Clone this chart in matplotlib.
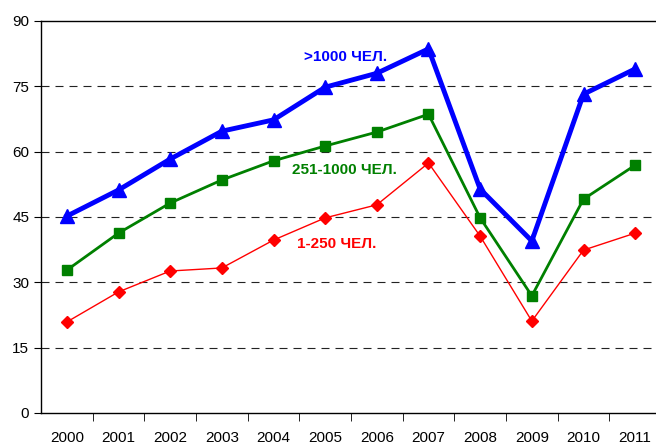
import matplotlib.pyplot as plt

plt.rcParams['font.family'] = ['Liberation Sans', 'DejaVu Sans']

years = ["2000", "2001", "2002", "2003", "2004", "2005",
         "2006", "2007", "2008", "2009", "2010", "2011"]
big = [45.2, 51.2, 58.3, 64.7, 67.3, 74.8, 78.0, 83.6, 51.4, 39.5, 73.2, 79.0]
mid = [32.8, 41.3, 48.2, 53.5, 57.9, 61.3, 64.5, 68.6, 44.8, 26.9, 49.1, 56.9]
small = [20.9, 27.8, 32.6, 33.3, 39.7, 44.8, 47.8, 57.4, 40.6, 21.1, 37.4, 41.3]

fig = plt.figure(figsize=(6.56, 4.46), dpi=100)
ax = fig.add_axes([41 / 656, 33 / 446, 620 / 656, 392 / 446])

x = list(range(len(years)))
ax.plot(x, small, color="#FF0000", lw=1, marker="D", ms=6, zorder=3)
ax.plot(x, mid, color="#008000", lw=2, marker="s", ms=7, zorder=3)
ax.plot(x, big, color="#0000FF", lw=3.5, marker="^", ms=10, zorder=3)

ax.text(5.4, 81.8, ">1000 ЧЕЛ.", color="#0000FF", fontsize=11, fontweight="bold", ha="center", va="center")
ax.text(5.38, 55.8, "251-1000 ЧЕЛ.", color="#008000", fontsize=11, fontweight="bold", ha="center", va="center")
ax.text(5.22, 38.8, "1-250 ЧЕЛ.", color="#FF0000", fontsize=11, fontweight="bold", ha="center", va="center")

ax.set_xlim(-0.5, 11.5)
ax.set_ylim(0, 90)
ax.set_yticks([0, 15, 30, 45, 60, 75, 90])
ax.set_xticks(x)
ax.set_xticklabels(years)
ax.set_xticks([i + 0.5 for i in range(11)], minor=True)
ax.tick_params(axis="x", which="major", length=0, pad=13, labelsize=11)
ax.tick_params(axis="x", which="minor", length=6, direction="out")
ax.tick_params(axis="y", length=5, direction="out", labelsize=11)

for v in [15, 30, 45, 60, 75]:
    ax.axhline(v, color="#222222", lw=0.8, ls=(0, (7.2, 5.4)), zorder=1)

ax.spines["right"].set_visible(False)
for s in ["left", "bottom", "top"]:
    ax.spines[s].set_linewidth(1)

fig.savefig("out.png", dpi=100)
